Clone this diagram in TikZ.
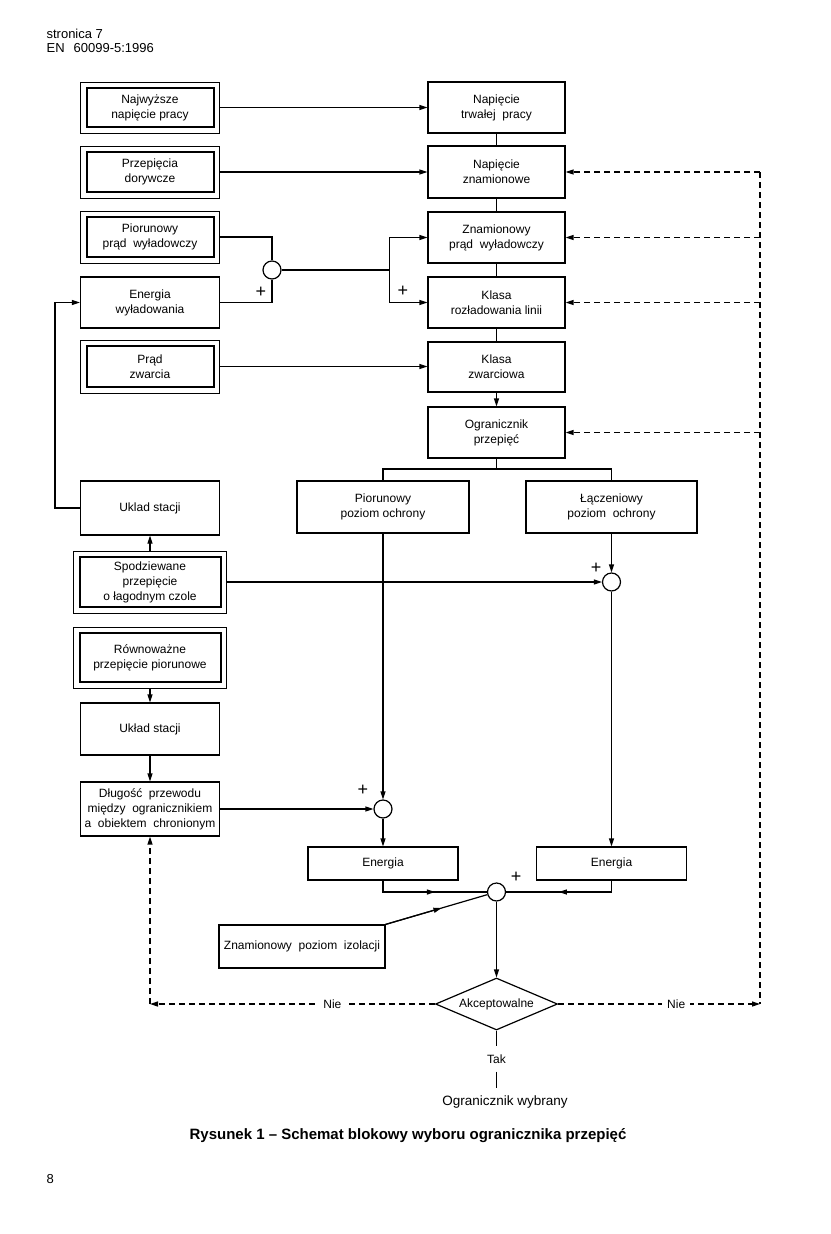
\documentclass[tikz,border=0pt]{standalone}
\usepackage{fontspec}
\setmainfont{Liberation Sans}
\usetikzlibrary{arrows.meta,calc,shapes.geometric}
\tikzset{
  txt/.style={font=\fontsize{12}{15}\selectfont},
  box/.style={draw, line width=1.2pt, align=center, inner sep=0pt, txt,
              minimum width=139pt, minimum height=52pt},
  dbox/.style={box, line width=0.9pt,
    path picture={\draw[line width=2pt]
      ($(path picture bounding box.south west)+(6pt,6pt)$) rectangle
      ($(path picture bounding box.north east)+(-6pt,-6pt)$);}},
  sum/.style={circle, draw, line width=1.2pt, minimum size=18pt, inner sep=0pt},
  arr/.style={-{Triangle[length=8pt,width=5pt]}},
  dsh/.style={dash pattern=on 6pt off 4pt, line width=1.3pt},
  plus/.style={font=\fontsize{18}{18}\selectfont, inner sep=0pt},
  lbl/.style={txt, fill=white, inner sep=5pt},
  hdr/.style={anchor=base west, font=\fontsize{13}{15}\selectfont, inner sep=0pt},
  decision/.style={diamond, draw, line width=1.2pt, aspect=2.35, inner sep=0pt,
                   minimum width=122pt, minimum height=52pt, txt}
}
\begin{document}
\begin{tikzpicture}[x=1pt,y=-1pt,line width=1.2pt]
\fill[white] (0,0) rectangle (830,1234);
\useasboundingbox (0,0) rectangle (830,1234);

% header and footer
\node[hdr] (h1) at (46,38) {stronica 7};
\node[hdr] (h2) at (46,52) {EN\hspace{9pt}60099-5:1996};
\node[hdr] (pg) at (46,1183) {8};
\node[font=\fontsize{15}{17}\selectfont\bfseries, inner sep=0pt] (cap) at (408,1136)
  {Rysunek 1 -- Schemat blokowy wyboru ogranicznika przepięć};

% left column
\node[dbox] (n1) at (150,107.5) [minimum height=51pt] {Najwyższe\\napięcie pracy};
\node[dbox] (n2) at (150,172) {Przepięcia\\dorywcze};
\node[dbox] (n3) at (150,237) {Piorunowy\\prąd\ \ wyładowczy};
\node[box]  (n4) at (150,302.5) [minimum height=51pt] {Energia\\wyładowania};
\node[dbox] (n5) at (150,366.5) [minimum height=53pt] {Prąd\\zwarcia};
\node[box]  (n6) at (150,508) [minimum height=54pt] {Uklad stacji};
\node[dbox] (n7) at (150,582) [minimum width=153pt, minimum height=62pt] {Spodziewane\\przepięcie\\o łagodnym czole};
\node[dbox] (n8) at (150,657.5) [minimum width=153pt, minimum height=61pt] {Równoważne\\przepięcie piorunowe};
\node[box]  (n9) at (150,729) {Układ stacji};
\node[box]  (n10) at (150,809) [minimum height=54pt] {Długość\ \ przewodu\\między\ \ ogranicznikiem\\a\ \ obiektem\ \ chronionym};

% central column
\node[box] (c1) at (496.5,107.5) [minimum width=137pt, minimum height=51pt] {Napięcie\\trwałej\ \ pracy};
\node[box] (c2) at (496.5,172) [minimum width=137pt] {Napięcie\\znamionowe};
\node[box] (c3) at (496.5,237.5) [minimum width=137pt, minimum height=51pt] {Znamionowy\\prąd\ \ wyładowczy};
\node[box] (c4) at (496.5,302.5) [minimum width=137pt, minimum height=51pt] {Klasa\\rozładowania linii};
\node[box] (c5) at (496.5,367) [minimum width=137pt, minimum height=50pt] {Klasa\\zwarciowa};
\node[box] (c6) at (496.5,432.5) [minimum width=137pt, minimum height=51pt] {Ogranicznik\\przepięć};

% protection levels
\node[box] (p1) at (383,507) [minimum width=172pt] {Piorunowy\\poziom ochrony};
\node[box] (p2) at (611.5,507) [minimum width=171pt] {Łączeniowy\\poziom\ \ ochrony};

% summing points
\node[sum] (s0) at (272,270) {};
\node[sum] (s1) at (611.5,582) {};
\node[sum] (s2) at (383,809) {};
\node[sum] (s3) at (496.5,892) {};

\node[plus] (q0) at (261,292) {+};
\node[plus] (q1) at (403,291) {+};
\node[plus] (q2) at (596,568) {+};
\node[plus] (q3) at (363,790) {+};
\node[plus] (q4) at (516,877) {+};

% energy boxes
\node[box] (e1) at (383,863.5) [minimum width=150pt, minimum height=33pt] {Energia};
\node[box] (e2) at (611.5,863.5) [minimum width=150pt, minimum height=33pt] {Energia};
\node[box] (z) at (302,946.5) [minimum width=166pt, minimum height=43pt] {Znamionowy\ \ poziom\ \ izolacji};

% decision
\node[decision] (d) at (496.5,1004) {Akceptowalne};
\node[txt, inner sep=0pt, minimum height=24pt] (tak) at (496.5,1059) {Tak};
\node[font=\fontsize{13.5}{15}\selectfont, inner sep=0pt] (wyb) at (505,1102) {Ogranicznik wybrany};

% coordinates
\coordinate (b0) at (389.5,270);
\coordinate (br) at (496.5,469);
\coordinate (lb) at (55,508);
\coordinate (r1) at (760,172);
\coordinate (r2) at (760,1004);
\coordinate (l2) at (150,1004);
\coordinate (wt) at (496.5,1088);

% top left inputs
\draw[arr] (n1) -- (c1);
\draw[arr] (n2) -- (c2);
\draw (n3.east) -| (s0.north);
\draw (n4.east) -| (s0.south);
\draw (s0.east) -- (b0);
\draw[arr] (b0) |- (c3.west);
\draw[arr] (b0) |- (c4.west);
\draw[arr] (n5.east) -- (n5.east -| c5.west);

% central chain
\draw (c1) -- (c2);
\draw (c2) -- (c3);
\draw (c3) -- (c4);
\draw (c4) -- (c5);
\draw[arr] (c5) -- (c6);
\draw (c6.south) -- (br);
\draw (p1.north) -- (p1.north |- br) -- (p2.north |- br) -- (p2.north);

% left chain
\draw[arr] (n7.north) -- (n6.south);
\draw[arr] (n6.west) -- (lb) |- (n4.west);
\draw[arr] (n7.east) -- (s1.west);
\draw[arr] (p2.south) -- (s1.north);
\draw[arr] (s1.south) -- (e2.north);
\draw[arr] (p1.south) -- (s2.north);
\draw[arr] (n8.south) -- (n9.north);
\draw[arr] (n9.south) -- (n10.north);
\draw[arr] (n10.east) -- (s2.west);
\draw[arr] (s2.south) -- (e1.north);

% into final summing point
\draw (e1.south) |- (s3.west);
\draw[arr] (e1.south |- s3.west) -- ($(e1.south |- s3.west)!0.5!(s3.west)$);
\draw (e2.south) |- (s3.east);
\draw[arr] (e2.south |- s3.east) -- ($(e2.south |- s3.east)!0.5!(s3.east)$);
\draw (z.north east) -- (s3.196);
\draw[arr] (z.north east) -- ($(z.north east)!0.55!(s3.196)$);
\draw[arr] (s3.south) -- (d.north);
\draw (d.south) -- (tak.north);
\draw (tak.south) -- (wt);

% feedback dashed lines
\draw[dsh] (r1) -- (r2);
\draw[dsh,arr] (r1) -- (c2.east);
\draw[dsh,arr] (c3.east -| r1) -- (c3.east);
\draw[dsh,arr] (c4.east -| r1) -- (c4.east);
\draw[dsh,arr] (c6.east -| r1) -- (c6.east);
\draw[dsh,arr] (d.east) -- node[lbl, pos=0.585] {Nie} (r2);
\draw[dsh,arr] (d.west) -- node[lbl, pos=0.36] {Nie} (l2);
\draw[dsh,arr] (l2) -- (n10.south);
\end{tikzpicture}
\end{document}
